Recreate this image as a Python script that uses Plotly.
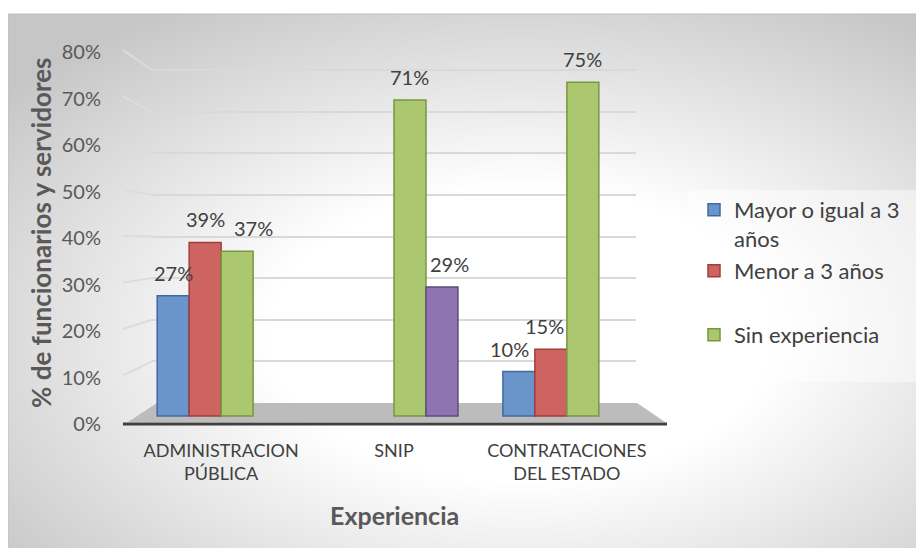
import base64
import plotly.graph_objects as go

# ---------------- data ----------------
categories = ["ADMINISTRACION PÚBLICA", "SNIP", "CONTRATACIONES DEL ESTADO"]
category_labels = ["ADMINISTRACION<br>PÚBLICA", "SNIP", "CONTRATACIONES<br>DEL ESTADO"]
series_names = ["Mayor o igual a 3<br>años", "Menor a 3 años", "Sin experiencia", "Otro"]
mayor_igual_3 = [27, None, 10]
menor_3 = [39, None, 15]
sin_experiencia = [37, 71, 75]
otro = [None, 29, None]
y_ticks = [0, 10, 20, 30, 40, 50, 60, 70, 80]
y_tick_labels = [f"{v}%" for v in y_ticks]

# ---------------- layout geometry (screen pixels) ----------------
OFF = 8                      # page body margin
W, H = 916, 540
ML, MR, MT, MB = 144, 288, 32, 118
PW, PH = W - ML - MR, H - MT - MB
X_RANGE = [-0.4, 2.4]
BARGAP = 0.26
PLOT_BOTTOM = OFF + H - MB   # screen px
PLOT_TOP = OFF + MT


def pxx(px):
    return (px - OFF - ML) / PW


def pxy(py):
    return (PLOT_BOTTOM - py) / PH


def axis_range(zero_px, px_per):
    return [(zero_px - PLOT_BOTTOM) / px_per, (zero_px - PLOT_TOP) / px_per]


BAR_AX = (416, 4.45)     # bars
GRID_AX = (403, 4.1625)  # back wall gridlines
LAB_AX = (424, 4.65)     # front tick labels

FONT = "Lato"

colors = ["#6a95cb", "#cd6462", "#abc870", "#8e74b0"]
lines = ["#41699f", "#a23d3b", "#78973d", "#604a7b"]
values = [mayor_igual_3, menor_3, sin_experiencia, otro]
legends = ["legend", "legend2", "legend3", None]
# label nudges (style only): (series, category) -> px
label_nudge = {(2, 0): 16, (3, 1): 8, (0, 2): -9, (1, 2): -6}

fig = go.Figure()
for i, vals in enumerate(values):
    fig.add_trace(go.Bar(
        x=categories, y=vals, name=series_names[i],
        marker=dict(color=colors[i], line=dict(color=lines[i], width=1.5)),
        showlegend=legends[i] is not None,
        legend=legends[i] if legends[i] else "legend",
        hoverinfo="skip",
    ))

# dummy traces so overlay axes get drawn
fig.add_trace(go.Scatter(x=[categories[0]], y=[None], yaxis="y2", showlegend=False, hoverinfo="skip"))
fig.add_trace(go.Scatter(x=[categories[0]], y=[None], yaxis="y3", showlegend=False, hoverinfo="skip"))

# data labels
cat_px = PW / (X_RANGE[1] - X_RANGE[0])
bar_w = cat_px * (1 - BARGAP) / 4
annotations = []
for i, vals in enumerate(values):
    for j, v in enumerate(vals):
        if v is None:
            continue
        annotations.append(dict(
            x=categories[j], y=v, xref="x", yref="y", text=f"{v}%",
            showarrow=False, yanchor="bottom", yshift=9,
            xshift=(i - 1.5) * bar_w + label_nudge.get((i, j), 0),
            font=dict(family=FONT, size=20, color="#404040"),
        ))

annotations.append(dict(
    x=pxx(41), y=pxy(233), xref="paper", yref="paper", xanchor="center", yanchor="middle",
    text="<b>% de funcionarios y servidores</b>", textangle=-90, showarrow=False,
    font=dict(family=FONT, size=26, color="#595959"),
))
annotations.append(dict(
    x=pxx(394), y=pxy(515), xref="paper", yref="paper", xanchor="center", yanchor="middle",
    text="<b>Experiencia</b>", showarrow=False,
    font=dict(family=FONT, size=25, color="#595959"),
))

# background gradient
svg = ('<svg xmlns="http://www.w3.org/2000/svg" width="916" height="534">'
       '<defs><radialGradient id="g" cx="0.56" cy="0.6" r="0.72">'
       '<stop offset="0" stop-color="#ffffff"/><stop offset="0.38" stop-color="#ffffff"/>'
       '<stop offset="1" stop-color="#c6c6c6"/></radialGradient></defs>'
       '<rect width="916" height="534" fill="url(#g)"/></svg>')
src = "data:image/svg+xml;base64," + base64.b64encode(svg.encode()).decode()

shapes = []
# legend box
shapes.append(dict(type="rect", xref="paper", yref="paper",
                   x0=pxx(687), x1=pxx(930), y0=pxy(190), y1=pxy(382),
                   fillcolor="rgba(255,255,255,0.45)", line=dict(width=0), layer="below"))
# outer border
shapes.append(dict(type="rect", xref="paper", yref="paper",
                   x0=pxx(8), x1=pxx(940), y0=pxy(14), y1=pxy(560),
                   fillcolor="rgba(0,0,0,0)", line=dict(color="#bfbfbf", width=1), layer="below"))


def ax_px(ax, v):
    return ax[0] - ax[1] * v


# perspective connectors of gridlines
for v in y_ticks[1:]:
    shapes.append(dict(type="line", xref="paper", yref="paper",
                       x0=pxx(123), y0=pxy(ax_px(LAB_AX, v) - 2),
                       x1=pxx(152), y1=pxy(ax_px(GRID_AX, v)),
                       line=dict(color="#dcdcdc", width=2), layer="below"))
# floor
fb, ff = ax_px(GRID_AX, 0), 422
shapes.append(dict(type="path", xref="paper", yref="paper",
                   path=(f"M {pxx(157)} {pxy(fb)} L {pxx(637)} {pxy(fb)} "
                         f"L {pxx(665)} {pxy(ff)} L {pxx(128)} {pxy(ff)} Z"),
                   fillcolor="#bcbcbc", line=dict(width=0), layer="between"))
shapes.append(dict(type="line", xref="paper", yref="paper",
                   x0=pxx(123), x1=pxx(667), y0=pxy(424), y1=pxy(424),
                   line=dict(color="#404040", width=3), layer="between"))

legend_font = dict(family=FONT, size=22, color="#404040")
fig.update_layout(
    width=W, height=H,
    margin=dict(l=ML, r=MR, t=MT, b=MB, autoexpand=False),
    paper_bgcolor="white", plot_bgcolor="rgba(0,0,0,0)",
    barmode="group", bargap=BARGAP, bargroupgap=0,
    font=dict(family=FONT, color="#595959"),
    xaxis=dict(type="category", range=X_RANGE, tickvals=categories, ticktext=category_labels,
               ticks="outside", ticklen=4, tickcolor="rgba(0,0,0,0)",
               tickfont=dict(family=FONT, size=18, color="#404040"),
               showgrid=False, zeroline=False, showline=False, fixedrange=True),
    yaxis=dict(range=axis_range(*BAR_AX), showgrid=False, zeroline=False,
               showticklabels=False, showline=False),
    yaxis2=dict(range=axis_range(*GRID_AX), overlaying="y", tickvals=y_ticks[1:],
                showgrid=True, gridcolor="#d9d9d9", gridwidth=2, zeroline=False,
                showticklabels=False, showline=False),
    yaxis3=dict(range=axis_range(*LAB_AX), overlaying="y", side="left",
                tickvals=y_ticks, ticktext=y_tick_labels,
                ticks="outside", ticklen=46, tickcolor="rgba(0,0,0,0)",
                tickfont=dict(family=FONT, size=20, color="#595959"),
                showgrid=False, zeroline=False, showline=False),
    legend=dict(x=pxx(694), y=pxy(189), xanchor="left", yanchor="top", valign="top",
                bgcolor="rgba(0,0,0,0)", font=legend_font),
    legend2=dict(x=pxx(694), y=pxy(250), xanchor="left", yanchor="top",
                 bgcolor="rgba(0,0,0,0)", font=legend_font),
    legend3=dict(x=pxx(694), y=pxy(314), xanchor="left", yanchor="top",
                 bgcolor="rgba(0,0,0,0)", font=legend_font),
    images=[dict(source=src, xref="paper", yref="paper", x=pxx(8), y=pxy(14),
                 sizex=916 / PW, sizey=534 / PH, xanchor="left", yanchor="top",
                 sizing="stretch", layer="below")],
    shapes=shapes,
    annotations=annotations,
    showlegend=True,
)

fig.write_html("out.html")
